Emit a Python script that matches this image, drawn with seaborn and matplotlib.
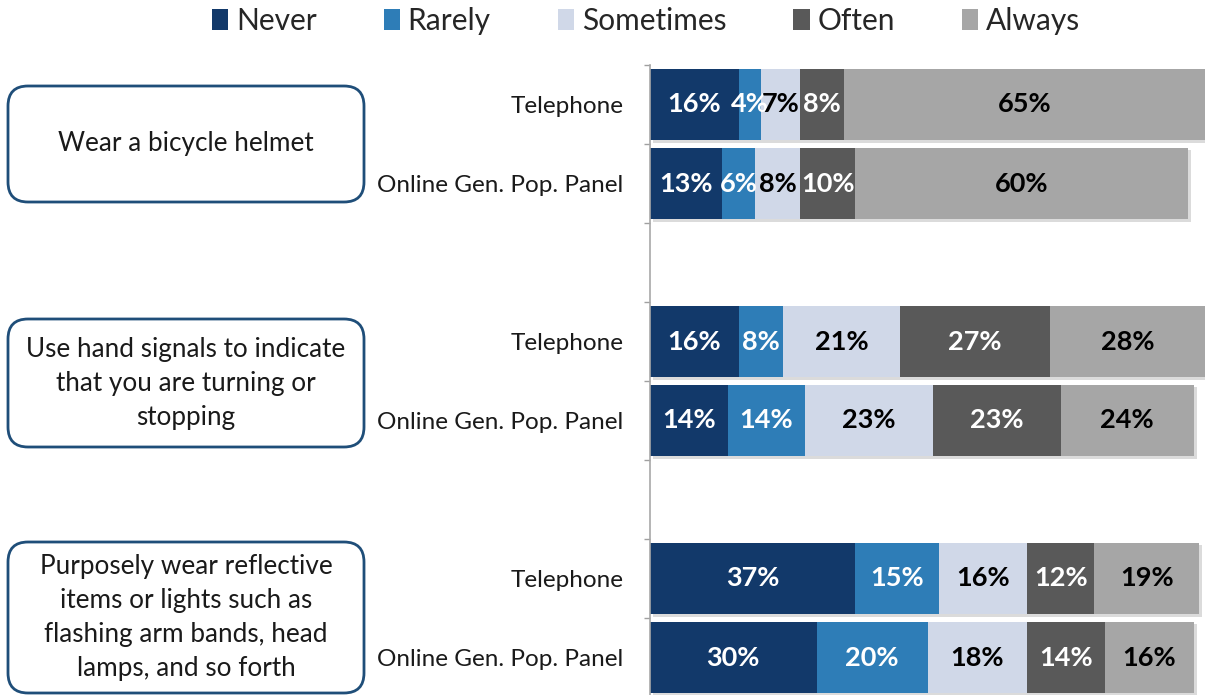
import numpy as np
import pandas as pd
import matplotlib
matplotlib.use("Agg")
import matplotlib.pyplot as plt
import matplotlib.patheffects as pe
from matplotlib.patches import FancyBboxPatch, Patch
import seaborn as sns

# Survey responses (percent of respondents)
responses = ["Never", "Rarely", "Sometimes", "Often", "Always"]
behaviors = [
    "Wear a bicycle helmet",
    "Use hand signals to indicate\nthat you are turning or\nstopping",
    "Purposely wear reflective\nitems or lights such as\nflashing arm bands, head\nlamps, and so forth",
]
modes = ["Telephone", "Online Gen. Pop. Panel"]

# one value per bar: helmet (tel, online), signals (tel, online), reflective (tel, online)
never = [16, 13, 16, 14, 37, 30]
rarely = [4, 6, 8, 14, 15, 20]
sometimes = [7, 8, 21, 23, 16, 18]
often = [8, 10, 27, 23, 12, 14]
always = [65, 60, 28, 24, 19, 16]

colors = ["#12396a", "#2e7db7", "#d0d8e8", "#595959", "#a6a6a6"]
text_colors = ["white", "white", "black", "white", "black"]

sns.set_theme(style="white")
plt.rcParams["font.family"] = ["Lato", "DejaVu Sans"]

# bar rows with an empty slot between behaviour groups
rows, row_labels = [], []
for bi in range(len(behaviors)):
    for m in modes:
        rows.append(f"b{bi}|{m}")
        row_labels.append(m)
    if bi < len(behaviors) - 1:
        rows.append(f"gap{bi}")
        row_labels.append("")
bar_rows = [r for r in rows if not r.startswith("gap")]

series = [never, rarely, sometimes, often, always]
records = []
for ri, r in enumerate(bar_rows):
    cum = 0
    for k, resp in enumerate(responses):
        v = series[k][ri]
        records.append(dict(row=r, response=resp, value=v, start=cum, end=cum + v))
        cum += v
df = pd.DataFrame(records)

fig = plt.figure(figsize=(12.09, 6.95), dpi=100)
ax = fig.add_axes([650 / 1209, -2 / 695, 555 / 1209, 632 / 695])

# stacked bars: draw cumulative totals from the last response back to the first
shadow = [pe.SimplePatchShadow(offset=(2, -2), shadow_rgbFace="#9a9a9a", alpha=0.35), pe.Normal()]
for k in range(len(responses) - 1, -1, -1):
    sub = df[df["response"] == responses[k]]
    kws = dict(path_effects=shadow) if k == len(responses) - 1 else {}
    sns.barplot(data=sub, x="end", y="row", order=rows, orient="h", color=colors[k],
                saturation=1, width=0.91, errorbar=None, ax=ax, linewidth=0, **kws)

# value labels centred in each segment
pos = {r: i for i, r in enumerate(rows)}
for _, rec in df.iterrows():
    k = responses.index(rec["response"])
    ax.text((rec["start"] + rec["end"]) / 2, pos[rec["row"]], f"{rec['value']}%",
            ha="center", va="center", fontsize=19.5, fontweight="bold", color=text_colors[k])

ax.set_xlim(0, 100)
ax.set_ylim(len(rows) - 0.5, -0.5)
ax.set_xlabel("")
ax.set_ylabel("")
ax.set_xticks([])
ax.set_yticks(range(len(rows)))
ax.set_yticklabels(row_labels, fontsize=17.5, color="#1a1a1a")
ax.set_yticks(np.arange(-0.5, len(rows), 1), minor=True)
ax.tick_params(axis="y", which="major", length=0, pad=19)
ax.tick_params(axis="y", which="minor", length=4, width=1, color="#a0a0a0", left=True)
for s in ["top", "right", "bottom"]:
    ax.spines[s].set_visible(False)
ax.spines["left"].set_color("#a8a8a8")
ax.spines["left"].set_linewidth(1.2)

# behaviour boxes on the left
box_specs = [(86, 202), (319, 447), (542, 693)]
for text, (top, bot) in zip(behaviors, box_specs):
    h = (bot - top) / 100
    y0 = (695 - bot) / 100
    box = FancyBboxPatch((0.08, y0), 3.56, h, boxstyle="round,pad=0,rounding_size=0.2",
                         transform=fig.dpi_scale_trans, facecolor="white",
                         edgecolor="#1f4e79", linewidth=2)
    fig.add_artist(box)
    fig.text(1.86 / 12.09, (695 - (top + bot) / 2) / 695, text, ha="center", va="center",
             fontsize=18.8, color="#1a1a1a", linespacing=1.45)

handles = [Patch(facecolor=c, edgecolor="none") for c in colors]
fig.legend(handles, responses, loc="center", bbox_to_anchor=(646 / 1209, 1 - 21 / 695),
           ncol=5, frameon=False, fontsize=21.5, handlelength=0.55, handleheight=0.7,
           handletextpad=0.25, columnspacing=2.25, borderaxespad=0)

fig.savefig("out.png", dpi=100)
